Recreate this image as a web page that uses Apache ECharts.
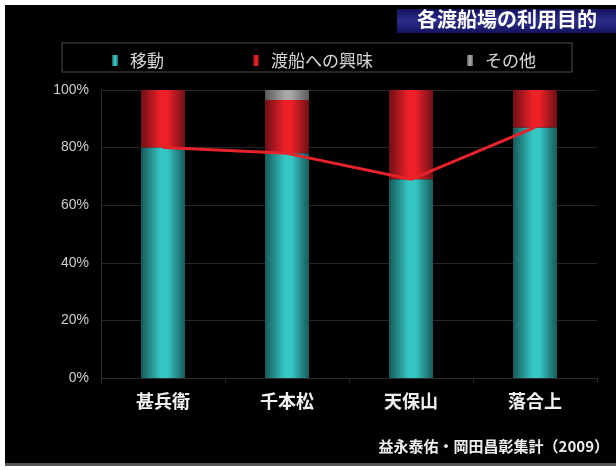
<!DOCTYPE html>
<html><head><meta charset="utf-8">
<script src="https://cdn.jsdelivr.net/npm/echarts@6/dist/echarts.min.js"></script>
<style>html,body{margin:0;padding:0;background:#fff}#c{width:616px;height:470px}</style>
</head><body><div id="c"></div>
<script>
const categories = ['甚兵衛', '千本松', '天保山', '落合上'];
const idou = [80, 78, 69, 87];
const kyoumi = [20, 18.5, 31, 13];
const sonota = [0, 3.5, 0, 0];
const yTicks = [0, 20, 40, 60, 80, 100];
const titleText = '各渡船場の利用目的';
const sourceText = '益永泰佑・岡田昌彰集計（2009）';

const CJK = '"Noto Sans CJK JP","Noto Sans",sans-serif';
function grad(edge, mid) {
  return new echarts.graphic.LinearGradient(0, 0, 1, 0, [
    {offset: 0, color: edge}, {offset: 0.45, color: mid}, {offset: 0.6, color: mid}, {offset: 1, color: edge}
  ]);
}
const chart = echarts.init(document.getElementById('c'), null, {renderer: 'canvas'});
const legendBase = {
  top: 47, icon: 'rect', itemWidth: 6, itemHeight: 11, itemGap: 6,
  textStyle: {color: '#d8d8d8', fontSize: 17, fontFamily: CJK, padding: [0, 0, 0, 7]}
};
chart.setOption({
  backgroundColor: '#ffffff',
  animation: false,
  graphic: [
    {type: 'rect', shape: {x: 5, y: 5, width: 611, height: 459}, style: {fill: '#000'}, z: -10},
    {type: 'rect', shape: {x: 5, y: 463, width: 611, height: 3}, style: {fill: '#555'}, z: -9},
    {type: 'rect', shape: {x: 397, y: 9, width: 219, height: 24},
      style: {fill: new echarts.graphic.LinearGradient(0, 0, 0, 1, [
        {offset: 0, color: '#12125a'}, {offset: 0.5, color: '#2c2c8c'}, {offset: 1, color: '#14145e'}])}, z: -8},
    {type: 'text', left: 417, top: 9, style: {text: titleText, fill: '#fff', fontSize: 20, fontWeight: 'bold', fontFamily: CJK}},
    {type: 'rect', shape: {x: 62, y: 43, width: 510, height: 29}, style: {fill: 'none', stroke: '#333', lineWidth: 1.5}, z: -7},
    {type: 'text', right: 7, top: 439, style: {text: sourceText, fill: '#eee', fontSize: 15, fontWeight: 'bold', fontFamily: CJK}}
  ],
  legend: [
    Object.assign({}, legendBase, {left: 107, data: ['移動']}),
    Object.assign({}, legendBase, {left: 248, data: ['渡船への興味']}),
    Object.assign({}, legendBase, {left: 462, data: ['その他']})
  ],
  grid: {left: 101, right: 19, top: 90, bottom: 92},
  xAxis: {
    type: 'category', data: categories,
    axisLine: {lineStyle: {color: '#2a2a2a'}},
    axisTick: {show: true, lineStyle: {color: '#2a2a2a'}},
    axisLabel: {color: '#f0f0f0', fontSize: 18, fontWeight: 'bold', fontFamily: CJK, margin: 14}
  },
  yAxis: {
    type: 'value', min: 0, max: 100, interval: 20,
    axisLine: {show: true, lineStyle: {color: '#2a2a2a'}},
    axisTick: {show: false},
    splitLine: {lineStyle: {color: '#262626'}},
    axisLabel: {color: '#cfcfcf', fontSize: 14, fontFamily: '"Liberation Sans",Arial,sans-serif', margin: 12,
      formatter: v => yTicks.includes(v) ? v + '%' : ''}
  },
  series: [
    {name: '移動', type: 'bar', stack: 's', barWidth: 44, data: idou,
      itemStyle: {color: grad('#165a5a', '#36c6c4')}},
    {name: '渡船への興味', type: 'bar', stack: 's', barWidth: 44, data: kyoumi,
      itemStyle: {color: grad('#6e1016', '#ee2028')}},
    {name: 'その他', type: 'bar', stack: 's', barWidth: 44, data: sonota,
      itemStyle: {color: grad('#5a5a5a', '#a8a8a8')}},
    {name: 'line', type: 'line', data: idou, symbol: 'none', z: 5,
      lineStyle: {color: '#e8222a', width: 3}, itemStyle: {color: '#e8222a'}}
  ]
});
</script></body></html>
